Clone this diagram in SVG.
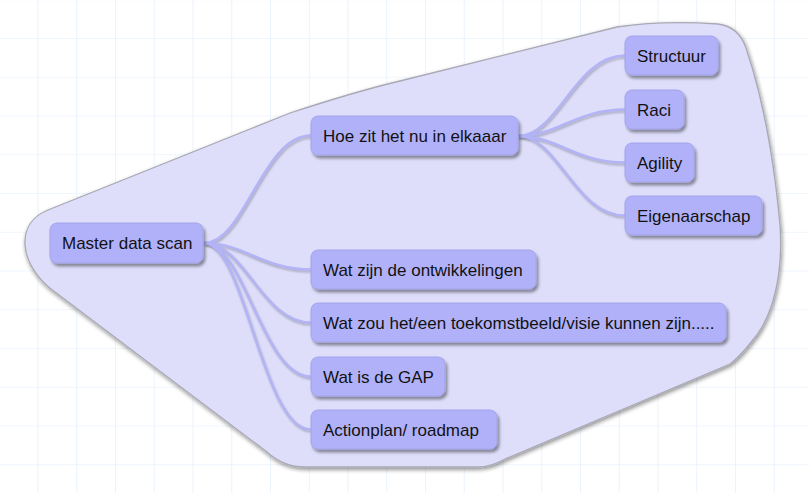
<svg xmlns="http://www.w3.org/2000/svg" width="809" height="493" viewBox="0 0 809 493">
<defs>
<pattern id="grid" patternUnits="userSpaceOnUse" x="37.5" y="38" width="38.75" height="38.75">
<path d="M0,0 V38.75 M0,0 H38.75" fill="none" stroke="#deebfa" stroke-width="1.2"/>
</pattern>
<filter id="bshadow" x="-10%" y="-10%" width="120%" height="120%">
<feGaussianBlur in="SourceAlpha" stdDeviation="2"/>
<feOffset dx="1" dy="2" result="b"/>
<feComponentTransfer><feFuncA type="linear" slope="0.45"/></feComponentTransfer>
<feMerge><feMergeNode/><feMergeNode in="SourceGraphic"/></feMerge>
</filter>
<filter id="nshadow" x="-10%" y="-20%" width="130%" height="160%">
<feGaussianBlur in="SourceAlpha" stdDeviation="1.5"/>
<feOffset dx="2" dy="3"/>
<feComponentTransfer><feFuncA type="linear" slope="0.4"/></feComponentTransfer>
<feMerge><feMergeNode/><feMergeNode in="SourceGraphic"/></feMerge>
</filter>
<filter id="lblur"><feGaussianBlur stdDeviation="0.8"/></filter>
</defs>
<style>
.node rect{fill:#b1b1fa;stroke:#a3a3ec;stroke-width:1;filter:url(#nshadow)}
.node text{font-family:"Liberation Sans",Arial,Helvetica,sans-serif;font-size:17px;fill:#111}
.sh path{fill:none;stroke:#6f6f80;stroke-width:2.2;stroke-opacity:0.55}
.ln path{fill:none;stroke:#b3b3f8;stroke-width:2.4}
</style>
<rect width="809" height="493" fill="#ffffff"/>
<rect width="809" height="493" fill="url(#grid)"/>
<g id="boundary">
<path d="M25,245 C24,228 33,216 48,210 L290,113 C330,100 370,88 400,81 L617,27 C650,22 690,22 718,24 C733,26 742,36 746,48 C762,95 774,160 780,225 C783,270 775,315 752,341 C745,350 738,358 730,364 L505,459 C496,464 488,467 478,467 L305,467 C290,467 278,462 267,452 L55,292 C38,280 26,262 25,245 Z" fill="#dedefb" stroke="#a9a9b6" stroke-width="1.3" filter="url(#bshadow)"/>
</g>
<g id="connectors">
<g class="sh" transform="translate(1,2)" filter="url(#lblur)">
<path d="M204,243 C245,243 262,135.5 311,135.5"/>
<path d="M204,243 C245,243 262,269.5 311,269.5"/>
<path d="M204,243 C245,243 262,322.5 311,322.5"/>
<path d="M204,243 C245,243 262,376.5 311,376.5"/>
<path d="M204,243 C245,243 262,429.5 311,429.5"/>
<path d="M518,136 C558,136 575,55.5 625,55.5"/>
<path d="M518,136 C558,136 575,109.5 625,109.5"/>
<path d="M518,136 C558,136 575,162.5 625,162.5"/>
<path d="M518,136 C558,136 575,215.5 625,215.5"/>
</g>
<g class="ln">
<path d="M204,243 C245,243 262,135.5 311,135.5"/>
<path d="M204,243 C245,243 262,269.5 311,269.5"/>
<path d="M204,243 C245,243 262,322.5 311,322.5"/>
<path d="M204,243 C245,243 262,376.5 311,376.5"/>
<path d="M204,243 C245,243 262,429.5 311,429.5"/>
<path d="M518,136 C558,136 575,55.5 625,55.5"/>
<path d="M518,136 C558,136 575,109.5 625,109.5"/>
<path d="M518,136 C558,136 575,162.5 625,162.5"/>
<path d="M518,136 C558,136 575,215.5 625,215.5"/>
</g>
</g>
<g id="n-master" class="node"><rect x="50" y="223" width="153" height="40" rx="7"/><text x="62" y="249">Master data scan</text></g>
<g id="n-hoe" class="node"><rect x="311" y="116" width="207" height="39" rx="7"/><text x="323" y="141.5">Hoe zit het nu in elkaaar</text></g>
<g id="n-structuur" class="node"><rect x="625" y="36" width="93" height="39" rx="7"/><text x="637" y="61.5">Structuur</text></g>
<g id="n-raci" class="node"><rect x="625" y="90" width="59" height="39" rx="7"/><text x="637" y="115.5">Raci</text></g>
<g id="n-agility" class="node"><rect x="625" y="143" width="69" height="39" rx="7"/><text x="637" y="168.5">Agility</text></g>
<g id="n-eigen" class="node"><rect x="625" y="196" width="137" height="39" rx="7"/><text x="637" y="221.5">Eigenaarschap</text></g>
<g id="n-ontw" class="node"><rect x="311" y="250" width="225" height="39" rx="7"/><text x="323" y="275.5">Wat zijn de ontwikkelingen</text></g>
<g id="n-toekomst" class="node"><rect x="311" y="303" width="415" height="39" rx="7"/><text x="323" y="328.5">Wat zou het/een toekomstbeeld/visie kunnen zijn.....</text></g>
<g id="n-gap" class="node"><rect x="311" y="357" width="134" height="39" rx="7"/><text x="323" y="382.5">Wat is de GAP</text></g>
<g id="n-action" class="node"><rect x="311" y="410" width="186" height="39" rx="7"/><text x="323" y="435.5">Actionplan/ roadmap</text></g>
</svg>
